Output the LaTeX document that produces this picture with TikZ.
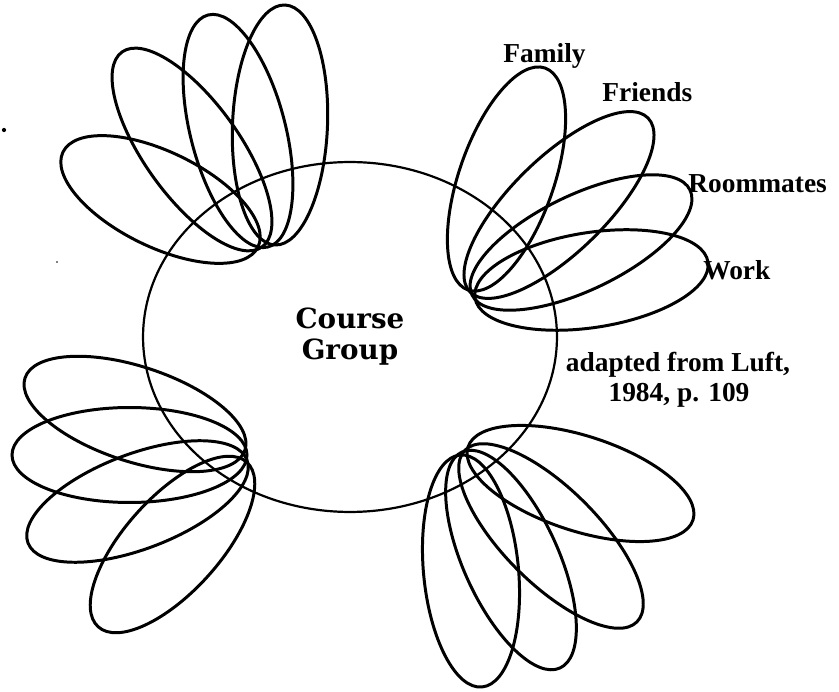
\documentclass[tikz,border=0pt]{standalone}
\usepackage{fontspec}
\setmainfont{Liberation Serif}
\newfontfamily\groupfont{DejaVu Serif}
\usetikzlibrary{calc,shapes.geometric}

\tikzset{
  petal/.style={draw,ellipse,line width=1.7pt,inner sep=0pt,minimum height=1.9cm},
  tag/.style={font=\bfseries\fontsize{15.6}{20}\selectfont,inner sep=0pt,anchor=base west}
}
% one petal: name, base point, tip point
\newcommand\petal[3]{%
  \path let \p1=(#2), \p2=(#3), \p3=($(#2)!0.5!(#3)$),
    \n1={atan2(\y2-\y1,\x2-\x1)}, \n2={veclen(\x2-\x1,\y2-\y1)} in
    node[petal,minimum width=\n2,rotate=\n1] (#1) at (\p3) {};}

\begin{document}
\begin{tikzpicture}[x=0.02cm,y=-0.02cm]
  \useasboundingbox (0,0) rectangle (839,692);

  \node[draw,ellipse,line width=1.25pt,minimum width=8.28cm,minimum height=7cm,align=center,
    font=\groupfont\bfseries\fontsize{15.8}{17.6}\selectfont] (group) at (350,337) {Course\\Group};

  % upper left
  \petal{ul1}{258,247}{63,152}
  \petal{ul2}{262,247}{122,52}
  \petal{ul3}{268,247}{208,15}
  \petal{ul4}{275,245}{285,5}
  % upper right
  \petal{ur1}{468,290}{545,68}
  \petal{ur2}{470,292}{648,118}
  \petal{ur3}{472,295}{690,190}
  \petal{ur4}{475,298}{708,262}
  % lower left
  \petal{ll1}{245,450}{25,378}
  \petal{ll2}{247,455}{12,455}
  \petal{ll3}{247,460}{28,543}
  \petal{ll4}{247,462}{98,627}
  % lower right
  \petal{lr1}{468,447}{693,520}
  \petal{lr2}{465,450}{637,622}
  \petal{lr3}{462,452}{560,668}
  \petal{lr4}{460,455}{482,687}

  \node[tag] (family) at (503,63) {Family};
  \node[tag] (friends) at (602,102) {Friends};
  \node[tag] (roommates) at (688,193) {Roommates};
  \node[tag] (work) at (703,280) {Work};
  \node[tag,anchor=base] (source) at (678,372) {adapted from Luft,};
  \node[tag,anchor=base] (year) at (679,402) {1984, p. 109};

  \fill (4,130) circle (1.2pt);
  \fill (57,262) circle (0.5pt);
\end{tikzpicture}
\end{document}
